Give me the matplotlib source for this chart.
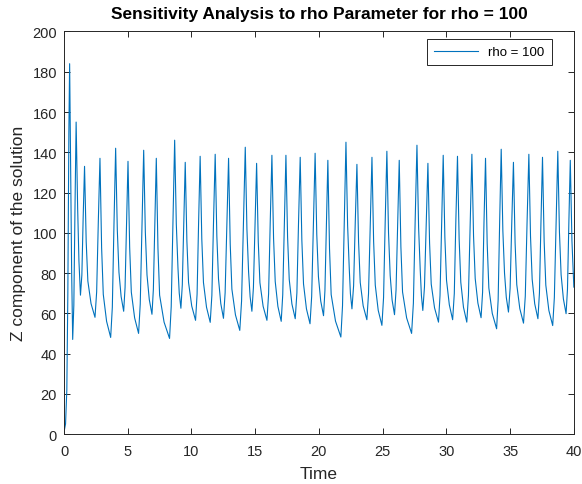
import matplotlib
matplotlib.use("Agg")
import matplotlib.pyplot as plt

# z(t) trace, rho = 100 (vertices along the curve: troughs, peaks and decay points)
time_pts = [
    0.00, 0.12, 0.22, 0.30, 0.38, 0.44,
    0.52, 0.60, 0.68, 0.77, 0.86, 0.95,
    1.07, 1.17, 1.29, 1.40, 1.50, 1.61,
    1.74, 1.87, 2.12, 2.43, 2.56, 2.69, 2.82,
    2.95, 3.08, 3.34, 3.66, 3.79, 3.92, 4.05,
    4.18, 4.31, 4.48, 4.68, 4.79, 4.91, 5.02,
    5.15, 5.28, 5.54, 5.85, 5.98, 6.12, 6.25,
    6.38, 6.51, 6.69, 6.90, 7.01, 7.13, 7.24,
    7.37, 7.50, 7.85, 8.28, 8.41, 8.55, 8.68,
    8.81, 8.94, 9.04, 9.17, 9.28, 9.40, 9.51,
    9.64, 9.77, 10.02, 10.32, 10.44, 10.56, 10.68,
    10.81, 10.94, 11.18, 11.47, 11.60, 11.73, 11.86,
    11.99, 12.12, 12.30, 12.51, 12.64, 12.78, 12.91,
    13.04, 13.17, 13.45, 13.79, 13.93, 14.08, 14.22,
    14.35, 14.48, 14.60, 14.74, 14.86, 14.99, 15.11,
    15.24, 15.37, 15.62, 15.92, 16.05, 16.18, 16.31,
    16.44, 16.57, 16.78, 17.04, 17.16, 17.29, 17.41,
    17.54, 17.67, 17.88, 18.14, 18.27, 18.40, 18.53,
    18.66, 18.79, 19.02, 19.30, 19.43, 19.57, 19.70,
    19.83, 19.96, 20.14, 20.36, 20.47, 20.59, 20.70,
    20.83, 20.96, 21.30, 21.72, 21.85, 21.99, 22.12,
    22.25, 22.38, 22.47, 22.59, 22.72, 22.85, 22.98,
    23.11, 23.24, 23.47, 23.76, 23.89, 24.03, 24.16,
    24.29, 24.42, 24.65, 24.94, 25.07, 25.20, 25.33,
    25.46, 25.59, 25.74, 25.93, 26.05, 26.18, 26.30,
    26.43, 26.56, 26.88, 27.27, 27.41, 27.55, 27.69,
    27.82, 27.95, 28.04, 28.15, 28.28, 28.42, 28.55,
    28.68, 28.81, 29.07, 29.38, 29.50, 29.63, 29.75,
    29.88, 30.01, 30.23, 30.49, 30.62, 30.74, 30.87,
    31.00, 31.13, 31.34, 31.60, 31.73, 31.87, 32.00,
    32.13, 32.26, 32.47, 32.72, 32.84, 32.95, 33.07,
    33.20, 33.33, 33.60, 33.94, 34.06, 34.18, 34.30,
    34.43, 34.56, 34.70, 34.87, 35.00, 35.13, 35.26,
    35.39, 35.52, 35.76, 36.05, 36.19, 36.33, 36.47,
    36.60, 36.73, 36.93, 37.18, 37.30, 37.42, 37.54,
    37.67, 37.80, 38.04, 38.34, 38.47, 38.61, 38.74,
    38.87, 39.00, 39.18, 39.39, 39.50, 39.61, 39.72,
    39.85, 40.00,
]

z_pts = [
    1, 5, 22, 70, 150, 184,
    130, 80, 47, 64, 112, 155,
    112, 86, 69, 79, 107, 133,
    95.5, 76, 64.8, 58, 70.6, 105.4, 137,
    92.5, 69.4, 56, 48, 63, 104.4, 142,
    101.5, 80.4, 68.3, 61, 72.9, 105.7, 135.5,
    92.8, 70.5, 57.7, 50, 64.6, 104.6, 141,
    100.3, 79.1, 66.8, 59.5, 71.9, 106, 137,
    92.3, 69, 55.6, 47.5, 63.3, 106.6, 146,
    104.3, 82.5, 70, 62.5, 74.1, 106, 135,
    95.8, 75.3, 63.6, 56.5, 69.5, 105.4, 138,
    96.8, 75.3, 63, 55.5, 68.9, 105.6, 139,
    98.3, 77.1, 64.8, 57.5, 70.2, 105.2, 137,
    94.3, 72, 59.2, 51.5, 66.1, 106.1, 142.5,
    101.8, 80.6, 68.3, 61, 72.8, 105.1, 134.5,
    95.5, 75.2, 63.5, 56.5, 69.6, 105.7, 138.5,
    97.3, 75.8, 63.4, 56, 69.2, 105.5, 138.5,
    97.9, 76.8, 64.6, 57.3, 70.1, 105.4, 137.5,
    96.2, 74.6, 62.2, 54.8, 68.4, 105.6, 139.5,
    99.2, 78.2, 66.1, 58.8, 71.2, 105.1, 136,
    92.1, 69.3, 56.1, 48.2, 63.7, 106.3, 145,
    103.6, 82.1, 69.7, 62.2, 73.7, 105.3, 134,
    95.4, 75.3, 63.7, 56.8, 69.7, 105.2, 137.5,
    95.8, 74, 61.5, 54, 67.8, 105.9, 140.5,
    99.9, 78.8, 66.6, 59.3, 71.6, 105.3, 136,
    93, 70.6, 57.7, 50, 65, 106.1, 143.5,
    102.5, 81.1, 68.8, 61.4, 73.1, 105.3, 134.5,
    95, 74.5, 62.7, 55.6, 68.9, 105.3, 138.5,
    97.7, 76.4, 64.2, 56.8, 69.8, 105.5, 138,
    96.8, 75.4, 63, 55.6, 68.9, 105.6, 139,
    98.4, 77.3, 65.1, 57.8, 70.5, 105.3, 137,
    94.7, 72.6, 59.9, 52.3, 66.6, 105.8, 141.5,
    101, 80, 67.9, 60.6, 72.5, 105.2, 135,
    95, 74.3, 62.3, 55.1, 68.5, 105.4, 139,
    98.2, 76.9, 64.7, 57.3, 70.1, 105.4, 137.5,
    95.7, 74, 61.4, 53.9, 67.8, 105.9, 140.5,
    100.2, 79.2, 67.1, 59.8, 72, 105.5, 136,
    96, 73,
]

x_ticks = list(range(0, 41, 5))
y_ticks = list(range(0, 201, 20))

plt.rcParams.update({
    "font.family": ["Liberation Sans", "DejaVu Sans"],
    "font.size": 10,
    "axes.linewidth": 0.7,
    "axes.edgecolor": "#262626",
    "xtick.color": "#262626",
    "ytick.color": "#262626",
    "xtick.direction": "in",
    "ytick.direction": "in",
    "xtick.top": True,
    "ytick.right": True,
    "xtick.major.size": 4,
    "ytick.major.size": 4,
    "xtick.major.width": 0.7,
    "ytick.major.width": 0.7,
    "xtick.major.pad": 7,
    "ytick.major.pad": 5,
})

fig = plt.figure(figsize=(5.82, 4.85), dpi=100)
ax = fig.add_axes([0.110, 0.103, 0.876, 0.830])

ax.plot(time_pts, z_pts, color="#0072BD", linewidth=0.8, label="rho = 100")

ax.set_xlim(0, 40)
ax.set_ylim(0, 200)
ax.set_xticks(x_ticks)
ax.set_yticks(y_ticks)
ax.tick_params(labelsize=10.5)

ax.set_xlabel("Time", fontsize=12.5, color="#262626", labelpad=6)
ax.set_ylabel("Z component of the solution", fontsize=12.5, color="#262626",
              labelpad=5)
ax.set_title("Sensitivity Analysis to rho Parameter for rho = 100",
             fontsize=12.5, fontweight="bold", pad=10)

leg = ax.legend(loc="upper right", bbox_to_anchor=(0.957, 0.982),
                fontsize=9.5, handlelength=3.3, frameon=True, fancybox=False,
                framealpha=1, borderpad=0.55, borderaxespad=0)
leg.get_frame().set_edgecolor("#262626")
leg.get_frame().set_linewidth(0.7)

fig.savefig("out.png", dpi=100)
